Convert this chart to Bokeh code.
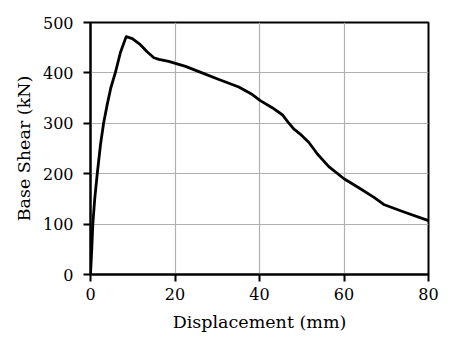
from bokeh.plotting import figure
from bokeh.models import Range1d, FixedTicker
from bokeh.embed import file_html
from bokeh.resources import INLINE

displacement = [0.0, 0.3, 0.55, 1.0, 1.6, 2.4, 3.1, 3.9, 4.8, 5.9, 7.1, 8.45,
                9.9, 11.8, 13.4, 15.0, 16.2, 18.5, 22.5, 26.4, 30.4, 35.1, 38.3,
                40.2, 43.0, 45.4, 46.8, 48.1, 50.0, 51.7, 53.7, 56.4, 60.0, 63.5,
                67.1, 69.4, 74.2, 80.0]
base_shear = [0, 50, 100, 150, 200, 260, 300, 335, 370, 401, 441, 472,
              468, 456, 442, 430, 427, 423, 413, 400, 387, 372, 357,
              345, 331, 317, 302, 289, 276, 262, 239, 214, 190, 172,
              153, 139, 124, 107]
x_ticks = [0, 20, 40, 60, 80]
y_ticks = [0, 100, 200, 300, 400, 500]

FONT = "DejaVu Serif"

p = figure(width=454, height=352, output_backend="svg", toolbar_location=None,
           x_range=Range1d(0, 80), y_range=Range1d(0, 500),
           min_border_left=90, min_border_right=26, min_border_top=22,
           min_border_bottom=78)

p.line(displacement, base_shear, line_color="black", line_width=2.8,
       line_join="round")

p.xaxis.ticker = FixedTicker(ticks=x_ticks)
p.yaxis.ticker = FixedTicker(ticks=y_ticks)
p.xaxis.axis_label = "Displacement (mm)"
p.yaxis.axis_label = "Base Shear (kN)"

for ax in list(p.below) + list(p.left):
    ax.axis_label_text_font = FONT
    ax.axis_label_text_font_size = "17.5px"
    ax.axis_label_text_font_style = "normal"
    ax.axis_label_text_color = "black"
    ax.major_label_text_font = FONT
    ax.major_label_text_font_size = "16px"
    ax.major_label_text_font_style = "normal"
    ax.major_label_text_color = "black"
    ax.axis_line_color = "black"
    ax.axis_line_width = 2
    ax.major_tick_line_color = "black"
    ax.major_tick_line_width = 2
    ax.major_tick_out = 7
    ax.major_tick_in = 0
    ax.minor_tick_line_color = None
p.xaxis.major_label_standoff = 6
p.yaxis.major_label_standoff = 10
p.xaxis.axis_label_standoff = 9
p.yaxis.axis_label_standoff = 6

p.grid.grid_line_color = "#b0b0b0"
p.grid.grid_line_width = 1.2
p.xgrid.ticker = FixedTicker(ticks=x_ticks)
p.ygrid.ticker = FixedTicker(ticks=y_ticks)

p.outline_line_color = "black"
p.outline_line_width = 2
p.outline_line_alpha = 1.0
p.background_fill_color = "white"
p.border_fill_color = "white"

open("out.html", "w").write(file_html(p, INLINE))
